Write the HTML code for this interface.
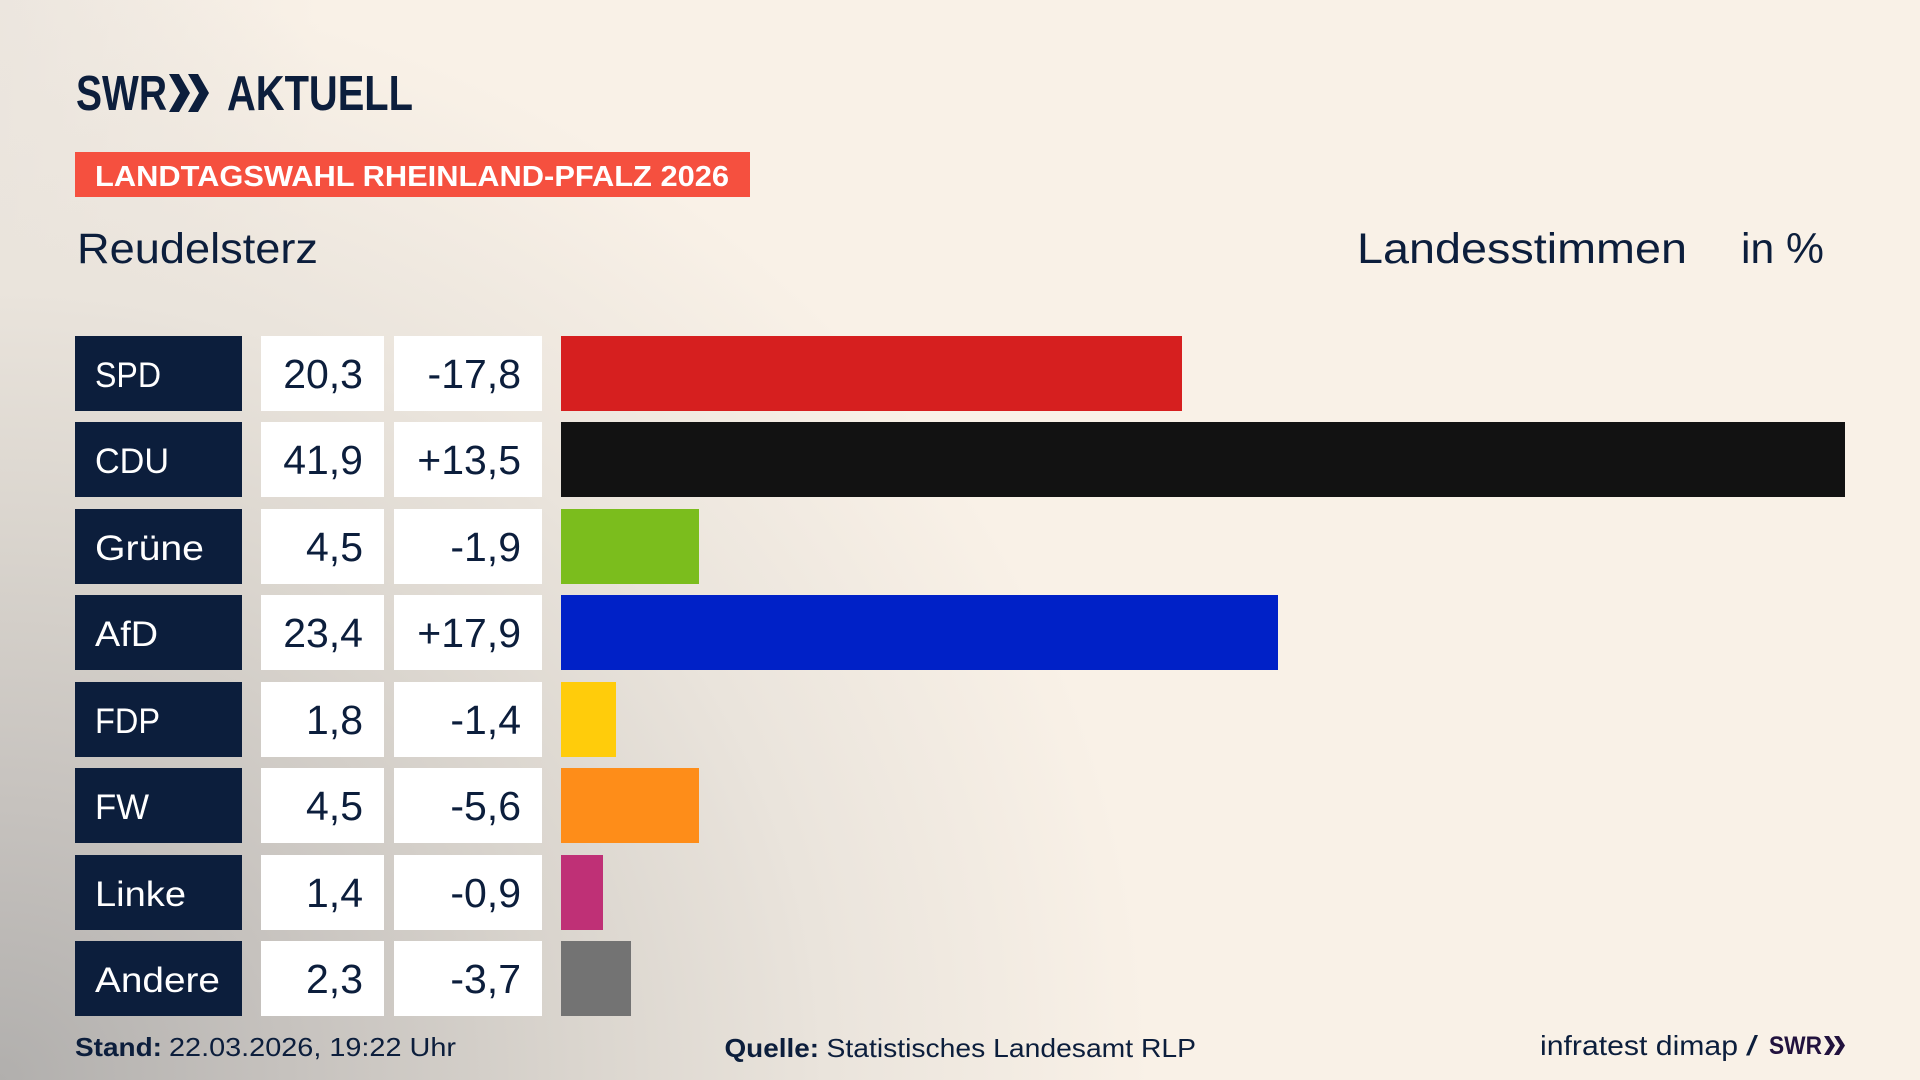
<!DOCTYPE html>
<html>
<head>
<meta charset="utf-8">
<style>
  html,body{margin:0;padding:0;}
  body{
    width:1920px;height:1080px;overflow:hidden;
    background-color:#f9f1e7;
    background-image:
      radial-gradient(ellipse 1150px 1100px at 0px 1080px, #b1afad 0%, #c6c2be 25%, #dad5ce 50%, #eae4dc 72%, rgba(249,241,231,0) 100%),
      linear-gradient(90deg, #ece6df 0px, rgba(249,241,231,0) 320px);
  }
  svg{position:absolute;left:0;top:0;}
  text{font-family:"Liberation Sans", "DejaVu Sans", sans-serif;}
</style>
</head>
<body>
<svg width="1920" height="1080" viewBox="0 0 1920 1080" xmlns="http://www.w3.org/2000/svg">
  <!-- Header logo -->
  <text x="76" y="110" font-size="49" font-weight="bold" fill="#0c1e3c" textLength="91" lengthAdjust="spacingAndGlyphs">SWR</text>
  <polygon points="169,74 179,74 190,93 179,112 169,112 180,93" fill="#0c1e3c"/>
  <polygon points="188,74 198,74 209,93 198,112 188,112 199,93" fill="#0c1e3c"/>
  <text x="227" y="110" font-size="49" font-weight="bold" fill="#0c1e3c" textLength="186" lengthAdjust="spacingAndGlyphs">AKTUELL</text>

  <!-- Banner -->
  <rect x="75" y="152" width="675" height="45" fill="#f5503f"/>
  <text x="95" y="186" font-size="29" font-weight="bold" fill="#ffffff" textLength="634" lengthAdjust="spacingAndGlyphs">LANDTAGSWAHL RHEINLAND-PFALZ 2026</text>

  <!-- Titles -->
  <text x="77" y="263" font-size="43" fill="#0c1e3c" textLength="241" lengthAdjust="spacingAndGlyphs">Reudelsterz</text>
  <text x="1357" y="263" font-size="43" fill="#0c1e3c" textLength="330" lengthAdjust="spacingAndGlyphs">Landesstimmen</text>
  <text x="1741" y="263" font-size="43" fill="#0c1e3c" textLength="83" lengthAdjust="spacingAndGlyphs">in %</text>

  <!-- Rows -->
  <g>
    <!-- SPD -->
    <rect x="75" y="336" width="167" height="75" fill="#0c1e3c"/>
    <rect x="261" y="336" width="123" height="75" fill="#ffffff"/>
    <rect x="394" y="336" width="148" height="75" fill="#ffffff"/>
    <rect x="561" y="336" width="621" height="75" fill="#d61f1f"/>
    <text x="95" y="387" font-size="35" fill="#ffffff" textLength="66" lengthAdjust="spacingAndGlyphs">SPD</text>
    <text x="363" y="388" font-size="41" fill="#0c1e3c" text-anchor="end">20,3</text>
    <text x="521" y="388" font-size="41" fill="#0c1e3c" text-anchor="end">-17,8</text>

    <!-- CDU -->
    <rect x="75" y="422" width="167" height="75" fill="#0c1e3c"/>
    <rect x="261" y="422" width="123" height="75" fill="#ffffff"/>
    <rect x="394" y="422" width="148" height="75" fill="#ffffff"/>
    <rect x="561" y="422" width="1284" height="75" fill="#121212"/>
    <text x="95" y="473" font-size="35" fill="#ffffff" textLength="74" lengthAdjust="spacingAndGlyphs">CDU</text>
    <text x="363" y="474" font-size="41" fill="#0c1e3c" text-anchor="end">41,9</text>
    <text x="521" y="474" font-size="41" fill="#0c1e3c" text-anchor="end">+13,5</text>

    <!-- Grüne -->
    <rect x="75" y="509" width="167" height="75" fill="#0c1e3c"/>
    <rect x="261" y="509" width="123" height="75" fill="#ffffff"/>
    <rect x="394" y="509" width="148" height="75" fill="#ffffff"/>
    <rect x="561" y="509" width="138" height="75" fill="#7bbd1d"/>
    <text x="95" y="560" font-size="35" fill="#ffffff" textLength="109" lengthAdjust="spacingAndGlyphs">Grüne</text>
    <text x="363" y="561" font-size="41" fill="#0c1e3c" text-anchor="end">4,5</text>
    <text x="521" y="561" font-size="41" fill="#0c1e3c" text-anchor="end">-1,9</text>

    <!-- AfD -->
    <rect x="75" y="595" width="167" height="75" fill="#0c1e3c"/>
    <rect x="261" y="595" width="123" height="75" fill="#ffffff"/>
    <rect x="394" y="595" width="148" height="75" fill="#ffffff"/>
    <rect x="561" y="595" width="717" height="75" fill="#0021c7"/>
    <text x="95" y="646" font-size="35" fill="#ffffff" textLength="63" lengthAdjust="spacingAndGlyphs">AfD</text>
    <text x="363" y="647" font-size="41" fill="#0c1e3c" text-anchor="end">23,4</text>
    <text x="521" y="647" font-size="41" fill="#0c1e3c" text-anchor="end">+17,9</text>

    <!-- FDP -->
    <rect x="75" y="682" width="167" height="75" fill="#0c1e3c"/>
    <rect x="261" y="682" width="123" height="75" fill="#ffffff"/>
    <rect x="394" y="682" width="148" height="75" fill="#ffffff"/>
    <rect x="561" y="682" width="55" height="75" fill="#ffcc0b"/>
    <text x="95" y="733" font-size="35" fill="#ffffff" textLength="65" lengthAdjust="spacingAndGlyphs">FDP</text>
    <text x="363" y="734" font-size="41" fill="#0c1e3c" text-anchor="end">1,8</text>
    <text x="521" y="734" font-size="41" fill="#0c1e3c" text-anchor="end">-1,4</text>

    <!-- FW -->
    <rect x="75" y="768" width="167" height="75" fill="#0c1e3c"/>
    <rect x="261" y="768" width="123" height="75" fill="#ffffff"/>
    <rect x="394" y="768" width="148" height="75" fill="#ffffff"/>
    <rect x="561" y="768" width="138" height="75" fill="#fe8d19"/>
    <text x="95" y="819" font-size="35" fill="#ffffff" textLength="54" lengthAdjust="spacingAndGlyphs">FW</text>
    <text x="363" y="820" font-size="41" fill="#0c1e3c" text-anchor="end">4,5</text>
    <text x="521" y="820" font-size="41" fill="#0c1e3c" text-anchor="end">-5,6</text>

    <!-- Linke -->
    <rect x="75" y="855" width="167" height="75" fill="#0c1e3c"/>
    <rect x="261" y="855" width="123" height="75" fill="#ffffff"/>
    <rect x="394" y="855" width="148" height="75" fill="#ffffff"/>
    <rect x="561" y="855" width="42" height="75" fill="#bf3076"/>
    <text x="95" y="906" font-size="35" fill="#ffffff" textLength="91" lengthAdjust="spacingAndGlyphs">Linke</text>
    <text x="363" y="907" font-size="41" fill="#0c1e3c" text-anchor="end">1,4</text>
    <text x="521" y="907" font-size="41" fill="#0c1e3c" text-anchor="end">-0,9</text>

    <!-- Andere -->
    <rect x="75" y="941" width="167" height="75" fill="#0c1e3c"/>
    <rect x="261" y="941" width="123" height="75" fill="#ffffff"/>
    <rect x="394" y="941" width="148" height="75" fill="#ffffff"/>
    <rect x="561" y="941" width="70" height="75" fill="#737373"/>
    <text x="95" y="992" font-size="35" fill="#ffffff" textLength="125" lengthAdjust="spacingAndGlyphs">Andere</text>
    <text x="363" y="993" font-size="41" fill="#0c1e3c" text-anchor="end">2,3</text>
    <text x="521" y="993" font-size="41" fill="#0c1e3c" text-anchor="end">-3,7</text>
  </g>

  <!-- Footer -->
  <text x="75" y="1056" font-size="26" font-weight="bold" fill="#0c1e3c" textLength="87" lengthAdjust="spacingAndGlyphs">Stand:</text>
  <text x="169" y="1056" font-size="26" fill="#0c1e3c" textLength="287" lengthAdjust="spacingAndGlyphs">22.03.2026, 19:22 Uhr</text>

  <text x="724.5" y="1057" font-size="26" font-weight="bold" fill="#0c1e3c" textLength="94.5" lengthAdjust="spacingAndGlyphs">Quelle:</text>
  <text x="826.5" y="1057" font-size="26" fill="#0c1e3c" textLength="369.5" lengthAdjust="spacingAndGlyphs">Statistisches Landesamt RLP</text>

  <text x="1540" y="1055" font-size="28" fill="#0c1e3c" textLength="198" lengthAdjust="spacingAndGlyphs">infratest dimap</text>
  <text x="1746" y="1055" font-size="28" fill="#0c1e3c" textLength="12" lengthAdjust="spacingAndGlyphs">/</text>
  <text x="1769" y="1054" font-size="25" font-weight="bold" fill="#22123e" textLength="53" lengthAdjust="spacingAndGlyphs">SWR</text>
  <polygon points="1824,1036 1829,1036 1835,1045.5 1829,1055 1824,1055 1830,1045.5" fill="#22123e"/>
  <polygon points="1834,1036 1839,1036 1845,1045.5 1839,1055 1834,1055 1840,1045.5" fill="#22123e"/>
</svg>
</body>
</html>
